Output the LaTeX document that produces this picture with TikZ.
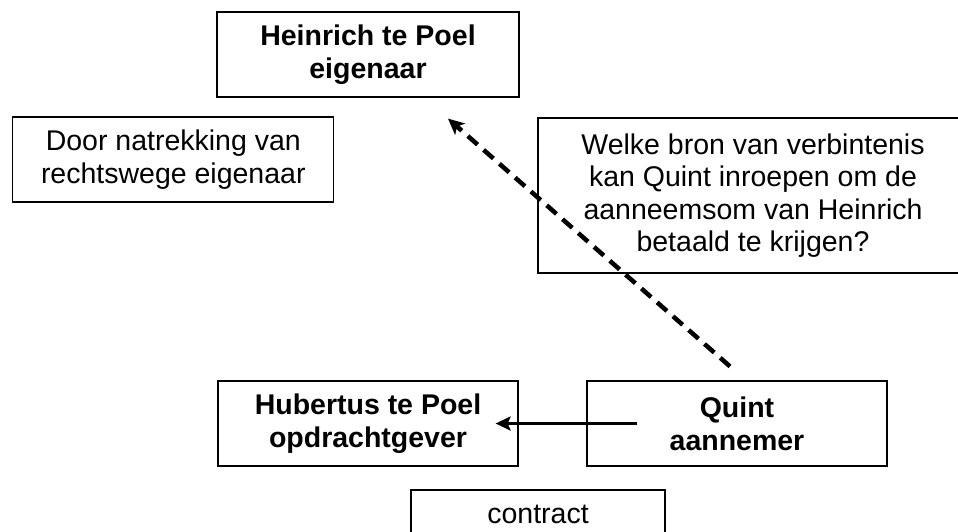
\documentclass[tikz,border=0pt]{standalone}
\usepackage{fontspec}
\setmainfont{Liberation Sans}
\usetikzlibrary{arrows.meta}
\tikzset{
  box/.style={draw=black, line width=1.2pt, minimum height=85pt, align=center, inner sep=4pt,
    font=\fontsize{28.5}{32.5}\selectfont},
  boldbox/.style={box, font=\fontsize{28.5}{33}\selectfont\bfseries},
  dasharrow/.style={line width=4.5pt, dash pattern=on 13pt off 8pt, -{Stealth[length=16pt,width=15pt,inset=4pt]}},
  solidarrow/.style={line width=3.6pt, -{Stealth[length=15pt,width=14pt,inset=3pt]}}
}
\begin{document}
\begin{tikzpicture}[x=1pt,y=-1pt]
\useasboundingbox (0,0) rectangle (958,531);
\clip (0,0) rectangle (958,531);
\node[boldbox, minimum width=302pt] (heinrich) at (368,54.5) {Heinrich te Poel\\eigenaar};
\node[box, minimum width=321pt] (door) at (173.3,159.5) {Door natrekking van\\rechtswege eigenaar};
\node[box, minimum width=430pt, minimum height=155pt] (welke) at (753,195.5) {Welke bron van verbintenis\\kan Quint inroepen om de\\aanneemsom van Heinrich\\betaald te krijgen?};
\node[boldbox, minimum width=300pt] (hubertus) at (368,423.5) {Hubertus te Poel\\opdrachtgever};
\node[boldbox, minimum width=300pt] (quint) at (737,423.5) {Quint\\aannemer};
\node[box, minimum width=254pt, text height=21pt, text depth=39pt, inner ysep=12.5pt] (contract) at (538,532.5) {contract};
\draw[dasharrow] ([xshift=-7pt,yshift=14pt]quint.north) -- ([xshift=80pt,yshift=-21pt]heinrich.south);
\draw[solidarrow] ([xshift=51pt]quint.west) -- ([xshift=-23pt]hubertus.east);
\end{tikzpicture}
\end{document}
